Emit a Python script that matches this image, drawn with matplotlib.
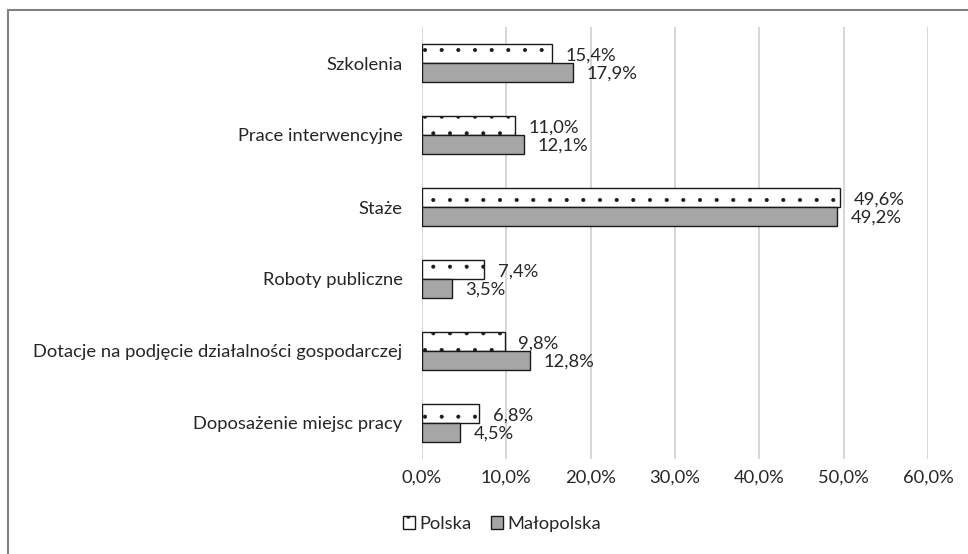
import matplotlib
matplotlib.use("Agg")
import matplotlib.pyplot as plt
from matplotlib.patches import Rectangle, Patch
import numpy as np

plt.rcParams['font.family'] = ['Lato', 'DejaVu Sans']
plt.rcParams['hatch.linewidth'] = 0.45

categories = ["Szkolenia", "Prace interwencyjne", "Staże", "Roboty publiczne",
              "Dotacje na podjęcie działalności gospodarczej", "Doposażenie miejsc pracy"]
polska = [15.4, 11.0, 49.6, 7.4, 9.8, 6.8]
malopolska = [17.9, 12.1, 49.2, 3.5, 12.8, 4.5]
series_names = ["Polska", "Małopolska"]
xticks = [0, 10, 20, 30, 40, 50, 60]

W, H = 968, 554
fs = 13.2
fig = plt.figure(figsize=(W / 100, H / 100), dpi=100)
ax = fig.add_axes([422 / W, 1 - 459 / H, (928 - 422) / W, (459 - 27) / H])

y = np.arange(len(categories))
h = 0.265
text_col = "#262626"
ax.barh(y - h / 2, polska, height=h, color="white", edgecolor="#1a1a1a",
        linewidth=1.0, hatch=".", zorder=3)
ax.barh(y + h / 2, malopolska, height=h, color="#a6a6a6", edgecolor="#1a1a1a",
        linewidth=1.0, zorder=3)

def fmt(v):
    return f"{v:.1f}%".replace(".", ",")

for yi, v in zip(y, polska):
    ax.text(v + 1.6, yi - h / 2 + 0.03, fmt(v), va="center", ha="left",
            fontsize=fs, color=text_col)
for yi, v in zip(y, malopolska):
    ax.text(v + 1.6, yi + h / 2 + 0.02, fmt(v), va="center", ha="left",
            fontsize=fs, color=text_col)

ax.set_xlim(0, 60)
ax.set_ylim(len(categories) - 0.5, -0.5)
ax.set_xticks(xticks)
ax.set_xticklabels([fmt(t) for t in xticks], fontsize=fs, color=text_col)
ax.set_yticks(y)
ax.set_yticklabels(categories, fontsize=fs, color=text_col)
ax.tick_params(axis="both", length=0)
ax.tick_params(axis="y", pad=14)
ax.tick_params(axis="x", pad=8)
ax.grid(axis="x", color="#d0d0d0", linewidth=1.2, zorder=0)
for s in ax.spines.values():
    s.set_visible(False)

handles = [Patch(facecolor="white", edgecolor="#1a1a1a", hatch=".", label=series_names[0]),
           Patch(facecolor="#a6a6a6", edgecolor="#1a1a1a", label=series_names[1])]
fig.legend(handles=handles, loc="center", bbox_to_anchor=(502 / W, 1 - 524 / H),
           ncol=2, frameon=False, fontsize=fs, handlelength=0.65, handleheight=0.65,
           handletextpad=0.2, columnspacing=1.1, labelcolor=text_col)

fig.patches.append(Rectangle((8 / W, -0.1), 1.2, 1 - 10 / H + 0.1, transform=fig.transFigure,
                             fill=False, edgecolor="#808080", linewidth=1.5))

fig.savefig("out.png", dpi=100)
